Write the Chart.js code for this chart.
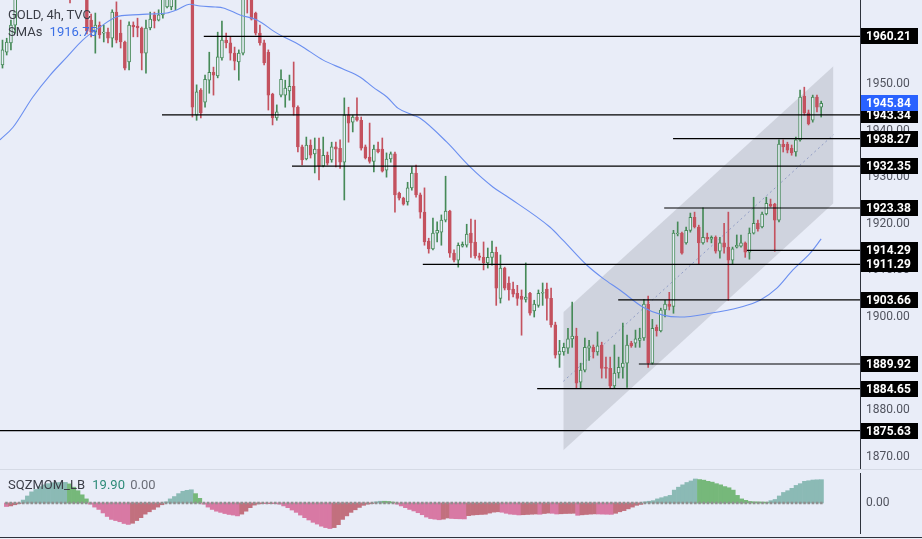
<!DOCTYPE html>
<html>
<head>
<meta charset="utf-8">
<script src="https://cdn.jsdelivr.net/npm/chart.js@4.4.1/dist/chart.umd.min.js"></script>
<style>
  html, body { margin: 0; padding: 0; background: #e9edf8; }
  body { width: 922px; height: 539px; position: relative; overflow: hidden; font-family: Roboto, "Noto Sans", sans-serif; }
  .pane { position: absolute; left: 0; width: 922px; }
  #main { top: 0; height: 469px; }
  #osc { top: 469px; height: 68px; }
  .sep { position: absolute; left: 0; width: 922px; height: 1px; }
  .legend { position: absolute; left: 8px; font-size: 13px; color: #3b3e47; white-space: nowrap; }
</style>
</head>
<body>
<div class="pane" id="main"><canvas id="priceChart"></canvas></div>
<div class="pane" id="osc"><canvas id="momChart"></canvas></div>
<div class="sep" style="top:469px;background:#d5dae5"></div>
<div class="sep" style="top:537px;background:#2e323c"></div>
<div class="legend" style="top:7px">GOLD, 4h, TVC</div>
<div class="legend" style="top:24px">SMAs <span style="color:#3a6fe6;margin-left:4px">1916.75</span></div>
<div class="legend" style="top:477px">SQZMOM_LB <span style="color:#2d8b78;margin-left:4px">19.90</span> <span style="color:#6b6e78;margin-left:2px">0.00</span></div>
<script>
// candles, one per 4h bar
const opens = [1954.1,1956.8,1958.8,1962.6,1969.5,1972,1974.5,1973,1976,1978.5,
  1977,1979.5,1981,1979,1977.5,1976,1975,1971,1974,1972,
  1970,1963.7,1961.1,1962.6,1960.9,1961.1,1959.8,1965.4,1960.9,1959.0,
  1954.7,1962.6,1962.4,1962.0,1956.6,1962.0,1964.8,1963.7,1964.8,1966.5,
  1966.5,1969,1972,1974,1977,1975,1943.3,1948.7,1946.1,1950.8,
  1952.5,1951.7,1955.6,1959.4,1958.8,1956.6,1954.7,1956.6,1972,1970,
  1965.2,1960.9,1958.8,1956.8,1947.8,1942.7,1947.6,1947.6,1948.5,1949.5,
  1945.0,1936.5,1933.9,1936.9,1935.0,1936.0,1932.4,1934.7,1933.7,1936.5,
  1936.2,1933.2,1943.3,1941.8,1942.9,1942.2,1936.5,1934.3,1933.4,1936.0,
  1936.0,1931.5,1933.9,1935.0,1926.6,1925.5,1924.7,1927.7,1930.9,1926.2,
  1922.5,1916.3,1914.6,1918.0,1918.2,1920.8,1922.7,1913.7,1912.2,1915.2,
  1915.4,1918.0,1916.1,1913.1,1912.8,1911.6,1912.8,1913.9,1904.0,1910.5,
  1907.3,1906.0,1905.1,1904.5,1903.8,1905.1,1901.3,1902.5,1905.1,1906.0,
  1904.0,1898.3,1892.0,1892.5,1893.3,1895.3,1895.9,1886.0,1888.6,1893.3,
  1893.5,1892.5,1894.0,1889.2,1889.0,1885.2,1888.0,1889.2,1890.1,1894.4,
  1894.4,1895.0,1895.5,1902.8,1890.1,1897.8,1897.0,1901.5,1902.8,1902.3,
  1917.8,1918.0,1915.9,1918.6,1921.4,1919.3,1915.9,1917.1,1916.7,1917.1,
  1914.1,1915.9,1915.0,1912.2,1915.0,1915.2,1915.9,1913.9,1918.0,1920.1,
  1919.3,1922.1,1924.2,1924.2,1920.8,1937.1,1937.1,1936.2,1935.4,1938.0,
  1947.4,1943.8,1942.2,1947.2,1945.0];
const highs = [1959.4,1959.8,1963.7,1971,1973,1976,1977,1978,1980,1980.5,
  1981,1983,1982.5,1980.5,1979,1978,1977,1976,1975.5,1973.5,
  1971,1965.0,1965.2,1963.3,1962.6,1962.0,1965.9,1967.6,1963.7,1959.2,
  1963.3,1963.3,1964.1,1962.2,1963.7,1965.4,1965.4,1965.9,1969.5,1971,
  1971.5,1973,1976,1978.5,1979,1977,1949.8,1949.0,1951.9,1956.8,
  1953.6,1961.1,1963.5,1960.9,1960.1,1957.9,1957.3,1972,1973,1971,
  1965.4,1962.6,1959.4,1957.3,1948.0,1945.5,1953.0,1950.8,1951.9,1954.7,
  1945.3,1936.9,1938.6,1938.0,1938.4,1938.4,1938.6,1935.4,1937.5,1937.5,
  1938.0,1947.0,1945.0,1943.3,1947.0,1942.9,1936.9,1941.6,1936.9,1937.5,
  1938.4,1935.2,1935.4,1935.4,1926.8,1925.7,1928.9,1932.2,1932.6,1926.6,
  1927.7,1916.9,1921.2,1920.4,1921.9,1930.2,1922.9,1914.4,1915.9,1916.1,
  1919.9,1921.0,1920.8,1913.7,1916.1,1914.8,1916.3,1915.0,1913.3,1910.7,
  1908.6,1907.5,1906.8,1905.8,1911.6,1905.3,1903.6,1905.8,1907.3,1907.3,
  1906.2,1898.9,1895.0,1894.4,1897.6,1903.2,1897.6,1890.1,1895.5,1895.0,
  1894.0,1896.8,1894.6,1891.4,1891.4,1894.0,1891.4,1898.7,1896.1,1894.8,
  1897.2,1897.6,1903.8,1904.5,1899.5,1898.3,1901.9,1903.6,1905.3,1918.6,
  1920.4,1918.2,1919.3,1922.3,1922.5,1919.7,1923.4,1918.0,1917.4,1917.4,
  1917.1,1920.1,1922.5,1915.0,1917.6,1917.6,1916.1,1919.1,1925.7,1920.8,
  1922.5,1925.7,1925.3,1924.4,1938.0,1938.0,1937.5,1936.9,1938.6,1948.7,
  1949.3,1944.4,1947.6,1947.6,1946.3];
const lows = [1953.4,1956.2,1957.3,1960.9,1968.5,1970.5,1971.5,1971.5,1974.5,1975,
  1975.5,1978,1977,1975.5,1974,1972.5,1967.4,1969.5,1970,1968.5,
  1960.7,1960.1,1956.6,1959.8,1959.0,1958.8,1957.9,1958.8,1957.7,1953.0,
  1953.0,1960.1,1960.1,1953.0,1952.3,1961.6,1962.0,1963.5,1964.1,1966.3,
  1965.9,1965.9,1970,1972,1973,1942.9,1942.2,1942.7,1945.0,1948.0,
  1947.6,1951.3,1955.1,1957.7,1955.1,1953.0,1950.8,1956.2,1965.2,1963.7,
  1960.5,1958.3,1954.1,1944.4,1941.2,1942.2,1947.2,1945.0,1946.5,1943.3,
  1935.4,1932.6,1933.7,1934.1,1930.9,1929.4,1932.2,1932.6,1933.2,1932.2,
  1931.9,1925.1,1937.5,1939.7,1942.0,1935.8,1933.9,1933.0,1931.1,1935.2,
  1931.1,1930.0,1933.2,1922.5,1925.1,1924.0,1924.0,1927.2,1925.7,1921.2,
  1915.4,1913.7,1914.4,1916.1,1915.4,1920.4,1912.8,1911.8,1910.7,1915.0,
  1915.0,1912.8,1912.6,1912.2,1910.1,1910.5,1911.1,1902.5,1903.0,1905.8,
  1903.6,1904.3,1902.5,1896.1,1903.2,1900.4,1900.0,1902.1,1902.5,1899.3,
  1897.8,1891.2,1889.2,1891.8,1892.2,1893.5,1884.7,1884.7,1888.2,1890.7,
  1891.2,1891.8,1886.9,1886.9,1884.7,1884.7,1886.9,1886.9,1884.9,1893.5,
  1893.5,1893.5,1895.0,1889.2,1889.9,1895.9,1896.8,1900.0,1901.5,1900.8,
  1917.4,1913.5,1915.6,1918.2,1919.1,1911.3,1915.6,1916.1,1915.9,1913.7,
  1912.6,1913.7,1903.6,1911.3,1914.8,1915.0,1912.8,1912.4,1917.8,1918.4,
  1919.1,1921.9,1923.6,1914.1,1920.4,1935.4,1935.2,1934.7,1934.5,1937.7,
  1943.3,1941.2,1941.8,1944.0,1942.9];
const closes = [1957.3,1959.0,1962.6,1969.5,1972,1974.5,1973,1976,1978.5,1977,
  1979.5,1981,1979,1977.5,1976,1975,1971,1974,1972,1970,
  1961.3,1961.1,1962.6,1960.5,1961.1,1959.8,1965.4,1959.4,1959.0,1953.4,
  1962.6,1962.2,1962.0,1956.6,1962.0,1963.9,1963.5,1964.8,1968.5,1969.5,
  1970,1972,1974,1977,1975,1945.0,1948.3,1943.8,1951.0,1952.5,
  1951.9,1955.8,1959.4,1958.8,1956.6,1954.9,1956.6,1970,1969,1963.9,
  1960.9,1958.8,1954.5,1947.6,1942.7,1944.0,1951.0,1949.1,1949.5,1945.0,
  1936.5,1933.7,1936.9,1934.7,1936.0,1932.4,1934.7,1933.0,1936.5,1936.0,
  1933.2,1943.3,1941.6,1942.9,1942.2,1936.2,1934.1,1933.4,1936.0,1935.4,
  1931.3,1933.9,1935.0,1926.2,1925.5,1924.2,1927.7,1930.9,1926.2,1922.5,
  1916.1,1914.6,1918.0,1918.6,1920.8,1922.7,1913.7,1912.2,1915.4,1915.6,
  1917.8,1915.9,1913.1,1912.8,1911.6,1912.8,1913.9,1906.2,1910.5,1906.2,
  1905.8,1904.9,1904.0,1903.8,1904.3,1900.8,1902.8,1905.1,1905.3,1904.0,
  1898.3,1891.8,1892.7,1893.5,1895.3,1895.9,1885.8,1888.6,1893.5,1893.8,
  1892.5,1893.8,1889.0,1889.0,1885.2,1888.0,1889.2,1890.1,1894.0,1893.8,
  1895.3,1895.5,1902.8,1890.1,1897.6,1897.0,1901.5,1902.8,1902.3,1918.0,
  1918.0,1913.7,1918.6,1921.4,1919.3,1915.9,1917.1,1916.7,1917.1,1914.1,
  1915.9,1915.0,1912.2,1914.6,1915.4,1915.9,1913.9,1918.0,1920.1,1918.9,
  1922.1,1924.4,1923.8,1920.8,1937.1,1936.5,1935.8,1935.2,1938.0,1947.2,
  1943.8,1941.4,1947.2,1945.0,1945.84];

// moving average, read at bar positions
const smaIdx = [-0.6,2.5,7.2,11.3,15.3,19,23.1,27.1,30.9,35,39,41.4,44.4,46.8,50.4,52.3,56.3,60.3,65,70.5,
  76,80.7,84.7,87.8,91.1,93.7,97.3,98.9,105.3,110.8,116.2,119.5,129.7,132.8,138.5,142.3,146.3,151.8,
  156.5,160.5,167.7,174.8,179.5,183.5,187.3,191.4,194];
const smaVal = [1938.0,1940.7,1947.2,1951.9,1955.8,1959.4,1962.2,1964.4,1964.8,1965.0,1965.2,1965.9,1967.1,
  1966.7,1966.5,1966.3,1964.8,1963.7,1960.9,1958.3,1955.1,1953.2,1951.5,1949.3,1947.2,1944.8,1943.3,1942.7,
  1937.5,1932.2,1927.9,1925.9,1919.3,1916.5,1911.1,1908.3,1905.8,1902.1,1900.4,1900.0,1900.8,1902.1,
  1903.6,1906.2,1910.1,1913.7,1916.75];

// horizontal rays: price and the bar they start at
const levelVals = [1960.21, 1943.34, 1938.27, 1932.35, 1923.38, 1914.29, 1911.29, 1903.66, 1889.92, 1884.65, 1875.63];
const levelStart = [47.7, 37.8, 158.9, 68.6, 156.8, 176.4, 99.6, 145.9, 150.8, 126.7, -0.6];
const lastPrice = 1945.84;

// parallel channel
const channelX = [132.9, 196.9];
const channelTop = [1901.0, 1953.8];
const channelBottom = [1871.4, 1924.4];
const channelMid = [1886.2, 1939.1];

const priceTicks = [1870, 1880, 1890, 1900, 1910, 1920, 1930, 1940, 1950, 1960];

// squeeze momentum histogram
const momentum = [-3,-2.5,-1.5,-0.5,2.5,6,9.5,11.5,14,15.5,
  16.5,17.3,17.4,17.5,17.6,16.3,13.5,10.5,7,3.5,
  -1,-3.5,-5.5,-8.5,-11.5,-14,-15,-16,-17.5,-18.3,
  -17.3,-15,-12.5,-9.5,-7.5,-5.5,-3.5,-1.5,1,3.5,
  5.5,8,10,10.8,11.3,8,4,-1,-3.5,-5.5,
  -7,-8,-9,-9.8,-10.3,-11,-9.5,-7,-4,-1.8,
  -0.8,-0.5,-0.6,-0.5,-0.6,-1,-2.5,-4,-6,-8,
  -10.3,-12.5,-14.5,-16.5,-18,-19.8,-21,-21.8,-21,-18.5,
  -14,-11,-8,-5.8,-3.8,-2,-1,-0.5,1,1.5,
  1.5,1.3,0.8,-1,-2.5,-4,-5.5,-6.8,-8.3,-10,
  -12,-13.3,-13.8,-14.3,-13.8,-12.8,-13.2,-13.4,-13.5,-13.6,
  -10.8,-10.3,-10.0,-9.8,-9.6,-8.6,-7.8,-7.5,-7.9,-8.8,
  -9.5,-9.8,-10.2,-10.0,-9.8,-9.6,-9.4,-9.6,-9.0,-8.6,
  -8.8,-9.4,-9.2,-9.0,-8.9,-8.8,-10.5,-10.1,-9.8,-9.5,
  -9.3,-9.4,-9.5,-9.6,-9.7,-8.8,-7.5,-6.5,-5,-3.5,
  -2,-1.2,1,1.5,2,3.5,4.5,5.5,6.5,11,
  13.5,15.5,17.5,18.8,20.5,20,19.5,18.5,17.8,16.5,
  15.5,14,13,11,6.5,3.5,2.3,1.3,1.0,0.9,
  0.8,0.7,2,3,6,9,10.5,12.5,15,16.5,
  18.5,19,19.6,19.8,19.9];

const X_MIN = -0.59, X_MAX = 203.2;
const BG = '#e9edf8';
const UP = '#468a58', DOWN = '#c4525f';

Chart.defaults.font.family = 'Roboto';
Chart.defaults.animation = false;

const idx = opens.map((_, i) => i);
const up = opens.map((o, i) => closes[i] >= o);
const candleColor = up.map(u => u ? UP : DOWN);

function rightAxis(extra) {
  return Object.assign({
    position: 'right',
    grid: { display: false, drawTicks: false },
    border: { display: true, color: '#2e323c', width: 1 },
    ticks: { color: '#50535e', font: { size: 12 }, padding: 6, callback: v => v.toFixed(2) },
    afterFit(s) { s.width = 62; s.paddingTop = 0; s.paddingBottom = 0; }
  }, extra);
}

const priceLabels = {
  id: 'priceLabels',
  afterDraw(chart) {
    const ctx = chart.ctx, y = chart.scales.y;
    const left = chart.chartArea.right + 1;
    ctx.save();
    ctx.font = 'bold 12px Roboto';
    ctx.textBaseline = 'middle';
    const box = (v, bg) => {
      const py = Math.round(y.getPixelForValue(v));
      ctx.fillStyle = bg;
      ctx.fillRect(left, py - 8, 57, 16);
      ctx.fillStyle = '#ffffff';
      ctx.fillText(v.toFixed(2), left + 5, py + 1);
    };
    levelVals.forEach(v => box(v, '#000000'));
    box(lastPrice, '#2962ff');
    ctx.restore();
  }
};

const levelSets = levelVals.map((v, k) => ({
  type: 'line',
  data: [{ x: levelStart[k], y: v }, { x: X_MAX, y: v }],
  borderColor: '#000000', borderWidth: 1.2, pointRadius: 0, order: 2
}));

new Chart(document.getElementById('priceChart'), {
  type: 'bar',
  data: {
    datasets: [
      { type: 'line', data: channelX.map((x, k) => ({ x, y: channelTop[k] })),
        borderWidth: 0, pointRadius: 0, fill: false, order: 9 },
      { type: 'line', data: channelX.map((x, k) => ({ x, y: channelBottom[k] })),
        borderWidth: 0, pointRadius: 0, fill: '-1', backgroundColor: 'rgba(165,168,180,0.38)', order: 9 },
      { type: 'line', data: channelX.map((x, k) => ({ x, y: channelMid[k] })),
        borderColor: '#8f9cc4', borderWidth: 1, borderDash: [2, 3], pointRadius: 0, order: 8 },
      { data: idx.map(i => ({ x: i, y: [lows[i], highs[i]] })),
        backgroundColor: candleColor, barThickness: 1, grouped: false, order: 5 },
      { data: idx.map(i => ({ x: i, y: [opens[i], closes[i]] })),
        backgroundColor: up.map(u => u ? BG : DOWN), borderColor: candleColor, borderWidth: 1,
        borderSkipped: false, barThickness: 3, minBarLength: 1, grouped: false, order: 4 },
      { type: 'line', data: smaIdx.map((x, k) => ({ x, y: smaVal[k] })),
        borderColor: '#6b8ff0', borderWidth: 1.1, pointRadius: 0, cubicInterpolationMode: 'monotone', order: 3 },
      ...levelSets
    ]
  },
  options: {
    responsive: true, maintainAspectRatio: false,
    layout: { padding: 0 },
    plugins: { legend: { display: false }, tooltip: { enabled: false } },
    scales: {
      x: { type: 'linear', min: X_MIN, max: X_MAX, offset: false, display: false },
      y: rightAxis({
        min: 1867.4, max: 1968.0,
        afterBuildTicks(s) { s.ticks = priceTicks.map(v => ({ value: v })); }
      })
    }
  },
  plugins: [priceLabels]
});

const momColors = momentum.map((v, i) => {
  const prev = i > 0 ? momentum[i - 1] : 0;
  if (v >= 0) return v > prev ? '#8bbab5' : '#76b87a';
  return v < prev ? '#d879a4' : '#c2707e';
});

new Chart(document.getElementById('momChart'), {
  type: 'bar',
  data: {
    datasets: [
      { type: 'line', data: idx.map(i => ({ x: i, y: 0 })), showLine: false,
        pointStyle: 'rect', pointRadius: 1.8, pointBackgroundColor: '#8e8e8e', pointBorderWidth: 0, order: 0 },
      { data: idx.map(i => ({ x: i, y: momentum[i] })), backgroundColor: momColors,
        barPercentage: 1, categoryPercentage: 1, order: 1 }
    ]
  },
  options: {
    responsive: true, maintainAspectRatio: false,
    layout: { padding: 0 },
    plugins: { legend: { display: false }, tooltip: { enabled: false } },
    scales: {
      x: { type: 'linear', min: X_MIN, max: X_MAX, offset: false, display: false },
      y: rightAxis({
        min: -25.6, max: 25.6,
        afterBuildTicks(s) { s.ticks = [{ value: 0 }]; }
      })
    }
  }
});
</script>
</body>
</html>
